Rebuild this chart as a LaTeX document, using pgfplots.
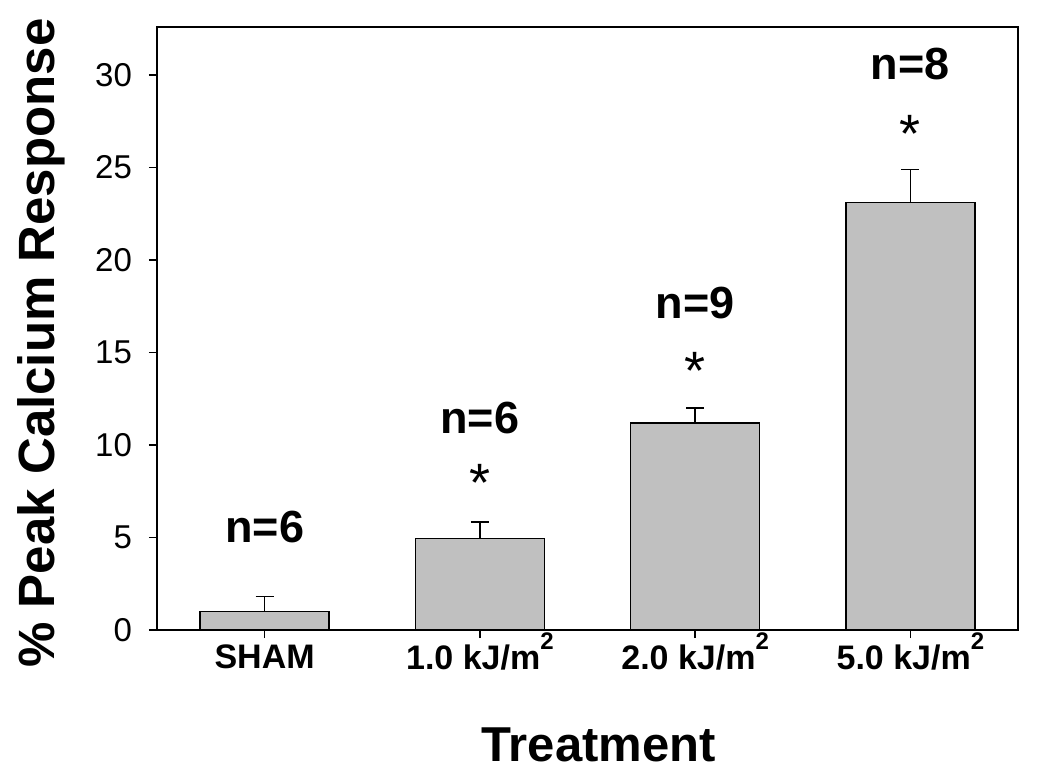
\documentclass[border=0pt]{standalone}
\usepackage{fontspec}
\setmainfont{Liberation Sans}
\usepackage{pgfplots}
\pgfplotsset{compat=1.18}
\definecolor{barfill}{HTML}{C0C0C0}
\newcommand{\sq}{\smash{\raisebox{0.6em}{\fontsize{12}{13}\selectfont 2}}}

\begin{document}
\begin{tikzpicture}
\path[use as bounding box] (-78.5pt,-76.5pt) rectangle (446.5pt,315pt);
\begin{axis}[
    at={(0,0)}, anchor=south west,
    scale only axis,
    width=430.5pt, height=301.5pt,
    xmin=-0.5, xmax=3.5,
    ymin=0, ymax=32.6,
    xtick={0,1,2,3},
    xticklabels={SHAM, 1.0 kJ/m\sq, 2.0 kJ/m\sq, 5.0 kJ/m\sq},
    ytick={0,5,10,15,20,25,30},
    tick pos=left,
    tick align=outside,
    major tick length=4pt,
    tick style={black, line width=0.8pt},
    axis line style={line width=0.8pt},
    /pgf/number format/assume math mode=true,
    xticklabel style={font=\fontsize{17}{20}\selectfont\bfseries, yshift=0pt},
    yticklabel style={font=\fontsize{16.5}{19}\selectfont, xshift=-5pt},
    xlabel={Treatment},
    ylabel={\% Peak Calcium Response},
    xlabel style={font=\fontsize{24.5}{28}\selectfont\bfseries, at={(rel axis cs:0.513,-0.191)}, anchor=center},
    ylabel style={font=\fontsize{25.5}{28}\selectfont\bfseries, at={(rel axis cs:-0.134,0.476)}, anchor=center, rotate=0},
    clip=false,
]
% bars with upper error bars
\addplot[ybar, bar width=0.6, fill=barfill, draw=black, line width=0.75pt,
    error bars/.cd, y dir=plus, y explicit,
    error bar style={line width=0.75pt, black},
    error mark options={rotate=90, mark size=4.5pt, line width=0.75pt, black}]
    table[x=x, y=y, y error=e] {
x y e
0 1.0 0.8
1 4.95 0.9
2 11.2 0.8
3 23.1 1.8
};
% group sizes
\addplot[draw=none, mark=none, nodes near coords, point meta=explicit symbolic,
    nodes near coords style={anchor=center, inner sep=0pt, font=\fontsize{22.5}{25}\selectfont\bfseries}]
    table[x=x, y=y, meta=lab] {
x y lab
0 5.57 n=6
1 11.46 n=6
2 17.7 n=9
3 30.6 n=8
};
% significance marks
\addplot[draw=none, mark=none, nodes near coords, point meta=explicit symbolic,
    nodes near coords style={anchor=center, inner sep=0pt, font=\fontsize{27}{29}\selectfont}]
    table[x=x, y=y, meta=lab] {
x y lab
1 7.95 *
2 14.0 *
3 26.8 *
};
\end{axis}
\end{tikzpicture}
\end{document}
